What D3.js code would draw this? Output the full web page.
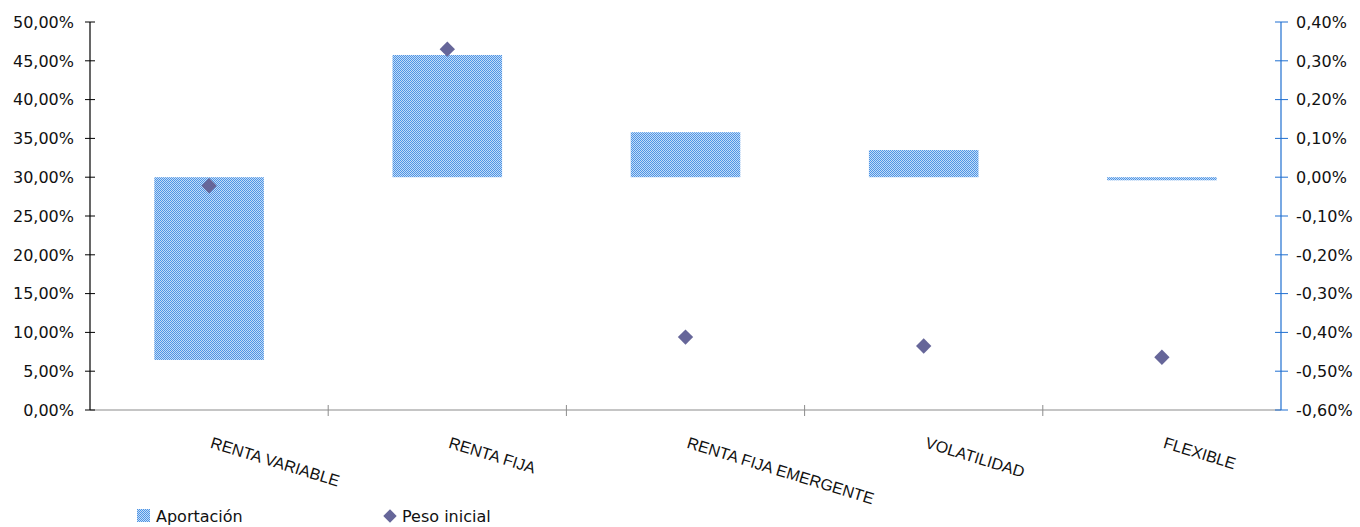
<!DOCTYPE html>
<html>
<head>
<meta charset="utf-8">
<script src="https://cdn.jsdelivr.net/npm/d3@7"></script>
<style>
    body { margin: 0; background: #fff; }
    svg { display: block; }
    .tick-label { font-family: "DejaVu Sans", Verdana, sans-serif; font-size: 16px; fill: #111; }
    .cat-label { font-family: "Liberation Sans", Arial, sans-serif; font-size: 16px; fill: #111; }
    .legend-label { font-family: "DejaVu Sans", Verdana, sans-serif; font-size: 16px; fill: #111; }
</style>
</head>
<body>
<div id="chart"></div>
<script>
// data
let categories = ["RENTA VARIABLE", "RENTA FIJA", "RENTA FIJA EMERGENTE", "VOLATILIDAD", "FLEXIBLE"];
let aportacion = [-0.471, 0.315, 0.116, 0.070, -0.008];   // right axis, %
let pesoInicial = [28.9, 46.5, 9.4, 8.25, 6.8];            // left axis, %
let leftTicks = [0, 5, 10, 15, 20, 25, 30, 35, 40, 45, 50];
let rightTicks = [-0.6, -0.5, -0.4, -0.3, -0.2, -0.1, 0, 0.1, 0.2, 0.3, 0.4];

let width = 1360, height = 527;
let margin = {top: 22, right: 79, bottom: 117, left: 90};

let svg = d3.select("#chart").append("svg")
    .attr("width", width)
    .attr("height", height);

// checkered fill like the excel pattern
let defs = svg.append("defs");
let pat = defs.append("pattern")
    .attr("id", "checker")
    .attr("width", 2).attr("height", 2)
    .attr("patternUnits", "userSpaceOnUse");
pat.append("rect").attr("width", 2).attr("height", 2).attr("fill", "#c2dcf8");
pat.append("rect").attr("width", 1).attr("height", 1).attr("fill", "#4f94e4");
pat.append("rect").attr("x", 1).attr("y", 1).attr("width", 1).attr("height", 1).attr("fill", "#4f94e4");

let x = d3.scaleBand()
    .domain(categories)
    .range([margin.left, width - margin.right]);

let yLeft = d3.scaleLinear()
    .domain([0, 50])
    .range([height - margin.bottom, margin.top]);

let yRight = d3.scaleLinear()
    .domain([-0.6, 0.4])
    .range([height - margin.bottom, margin.top]);

let fmt = v => {
    let s = Math.abs(v).toFixed(2).replace(".", ",") + "%";
    return (v < -1e-9 ? "-" : "") + s;
};

// bars (floating from zero on right axis)
let barW = x.bandwidth() * 0.46;
svg.append("g")
    .selectAll("rect")
    .data(categories)
    .enter().append("rect")
    .attr("x", d => x(d) + (x.bandwidth() - barW) / 2)
    .attr("y", (d, i) => yRight(Math.max(0, aportacion[i])))
    .attr("width", barW)
    .attr("height", (d, i) => Math.max(1.5, Math.abs(yRight(aportacion[i]) - yRight(0))))
    .attr("fill", "url(#checker)");

// bottom category axis
let baseY = height - margin.bottom;
svg.append("line")
    .attr("x1", margin.left).attr("x2", width - margin.right)
    .attr("y1", baseY).attr("y2", baseY)
    .attr("stroke", "#8c8c8c").attr("stroke-width", 1.2);

svg.append("g")
    .selectAll("line")
    .data(categories.slice(1))
    .enter().append("line")
    .attr("x1", d => x(d)).attr("x2", d => x(d))
    .attr("y1", baseY - 5).attr("y2", baseY + 6)
    .attr("stroke", "#8c8c8c");

svg.append("g")
    .selectAll("text")
    .data(categories)
    .enter().append("text")
    .attr("class", "cat-label")
    .attr("transform", d => `translate(${x(d) + x.bandwidth() / 2 + 4}, 436) rotate(17)`)
    .attr("dy", "0.75em")
    .text(d => d);

// left axis
let leftAxis = svg.append("g");
leftAxis.append("line")
    .attr("x1", margin.left).attr("x2", margin.left)
    .attr("y1", margin.top).attr("y2", baseY)
    .attr("stroke", "#000").attr("stroke-width", 1.2);
leftAxis.selectAll(".tk")
    .data(leftTicks)
    .enter().append("line")
    .attr("x1", margin.left - 5).attr("x2", margin.left + 5)
    .attr("y1", d => yLeft(d)).attr("y2", d => yLeft(d))
    .attr("stroke", "#000");
leftAxis.selectAll("text")
    .data(leftTicks)
    .enter().append("text")
    .attr("class", "tick-label")
    .attr("x", 74)
    .attr("y", d => yLeft(d))
    .attr("dy", "0.36em")
    .attr("text-anchor", "end")
    .text(d => fmt(d));

// right axis
let rx = width - margin.right;
let rightAxis = svg.append("g");
rightAxis.append("line")
    .attr("x1", rx).attr("x2", rx)
    .attr("y1", margin.top).attr("y2", baseY)
    .attr("stroke", "#1f6fd1").attr("stroke-width", 1.2);
rightAxis.selectAll(".tk")
    .data(rightTicks)
    .enter().append("line")
    .attr("x1", rx - 6).attr("x2", rx + 7)
    .attr("y1", d => yRight(d)).attr("y2", d => yRight(d))
    .attr("stroke", "#1f6fd1");
rightAxis.selectAll("text")
    .data(rightTicks)
    .enter().append("text")
    .attr("class", "tick-label")
    .attr("x", rx + 15)
    .attr("y", d => yRight(d))
    .attr("dy", "0.36em")
    .text(d => fmt(d));

// diamonds - peso inicial on left axis
let diamond = d3.symbol().type(d3.symbolDiamond2).size(150);
svg.append("g")
    .selectAll("path")
    .data(categories)
    .enter().append("path")
    .attr("d", diamond)
    .attr("transform", (d, i) => `translate(${x(d) + x.bandwidth() / 2}, ${yLeft(pesoInicial[i])})`)
    .attr("fill", "#666699");

// legend
let legend = svg.append("g");
legend.append("rect")
    .attr("x", 137).attr("y", 509)
    .attr("width", 13).attr("height", 13)
    .attr("fill", "url(#checker)");
legend.append("text")
    .attr("class", "legend-label")
    .attr("x", 156).attr("y", 522)
    .text("Aportación");
legend.append("path")
    .attr("d", d3.symbol().type(d3.symbolDiamond2).size(115))
    .attr("transform", "translate(390, 516)")
    .attr("fill", "#666699");
legend.append("text")
    .attr("class", "legend-label")
    .attr("x", 402).attr("y", 522)
    .text("Peso inicial");
</script>
</body>
</html>
